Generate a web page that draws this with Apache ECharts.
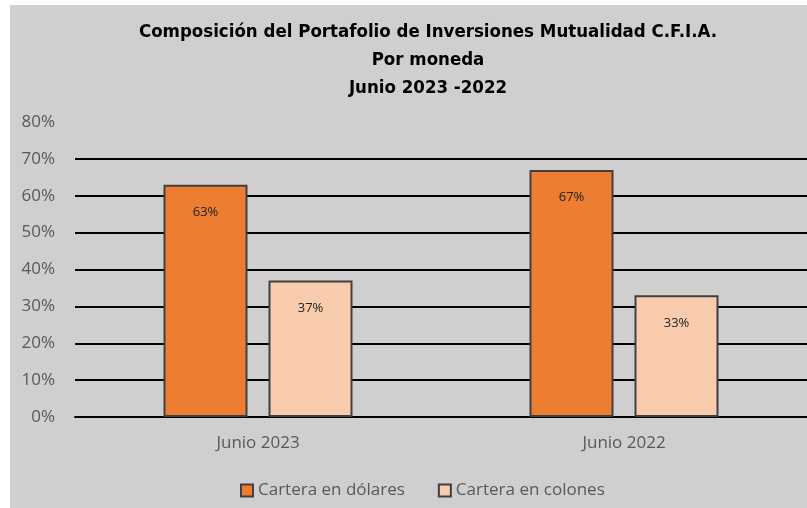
<!DOCTYPE html>
<html>
<head>
<meta charset="utf-8">
<script src="https://cdn.jsdelivr.net/npm/echarts@6/dist/echarts.min.js"></script>
<style>
  html, body { margin: 0; padding: 0; background: #fff; }
  #chart-container { position: absolute; left: 10px; top: 5px; width: 797px; height: 503px; }
</style>
</head>
<body>
<div id="chart-container"></div>
<script>
var categories = ['Junio 2023', 'Junio 2022'];
var dolares = [63, 67];
var colones = [37, 33];
var yTicks = [0, 10, 20, 30, 40, 50, 60, 70, 80];

var dom = document.getElementById('chart-container');
var myChart = echarts.init(dom, null, { renderer: 'canvas' });

var font = 'Open Sans';
// hide the top (80%) gridline like the original
var gridColors = yTicks.map(function (t, i) { return i === yTicks.length - 1 ? 'rgba(0,0,0,0)' : '#000'; });

var option = {
  backgroundColor: '#D0CECE',
  animation: false,
  title: {
    text: 'Composición del Portafolio de Inversiones Mutualidad C.F.I.A.\nPor moneda\nJunio 2023 -2022',
    left: 413,
    top: 8,
    textAlign: 'center',
    textStyle: {
      fontFamily: 'DejaVu Sans Condensed',
      fontWeight: 'bold',
      fontSize: 18.5,
      lineHeight: 28,
      color: '#000'
    }
  },
  legend: {
    top: 472,
    left: 225,
    itemWidth: 12,
    itemHeight: 12,
    itemGap: 33,
    icon: 'rect',
    textStyle: { fontFamily: font, fontSize: 17, color: '#595959' },
    data: ['Cartera en dólares', 'Cartera en colones']
  },
  grid: { left: 65, top: 117, width: 737, bottom: 91 },
  xAxis: {
    type: 'category',
    data: categories,
    axisLine: { lineStyle: { color: '#000', width: 2 } },
    axisTick: { show: false },
    axisLabel: { fontFamily: font, fontSize: 17, color: '#595959', margin: 18 }
  },
  yAxis: {
    type: 'value',
    min: 0,
    max: 80,
    interval: 10,
    axisLine: { show: false },
    axisTick: { show: false },
    axisLabel: { fontFamily: font, fontSize: 17, color: '#595959', margin: 20, formatter: '{value}%' },
    splitLine: { lineStyle: { color: gridColors, width: 2 } }
  },
  series: [
    {
      name: 'Cartera en dólares',
      type: 'bar',
      data: dolares,
      barWidth: 84,
      barGap: '25%',
      itemStyle: { color: '#ED7D31', borderColor: '#404040', borderWidth: 2 },
      label: { show: true, position: 'insideTop', distance: 21, formatter: '{c}%', fontFamily: font, fontSize: 13, color: '#222' }
    },
    {
      name: 'Cartera en colones',
      type: 'bar',
      data: colones,
      barWidth: 84,
      barGap: '25%',
      itemStyle: { color: '#F8CBAD', borderColor: '#404040', borderWidth: 2 },
      label: { show: true, position: 'insideTop', distance: 21, formatter: '{c}%', fontFamily: font, fontSize: 13, color: '#222' }
    }
  ]
};

myChart.setOption(option);
window.addEventListener('resize', myChart.resize);
</script>
</body>
</html>
